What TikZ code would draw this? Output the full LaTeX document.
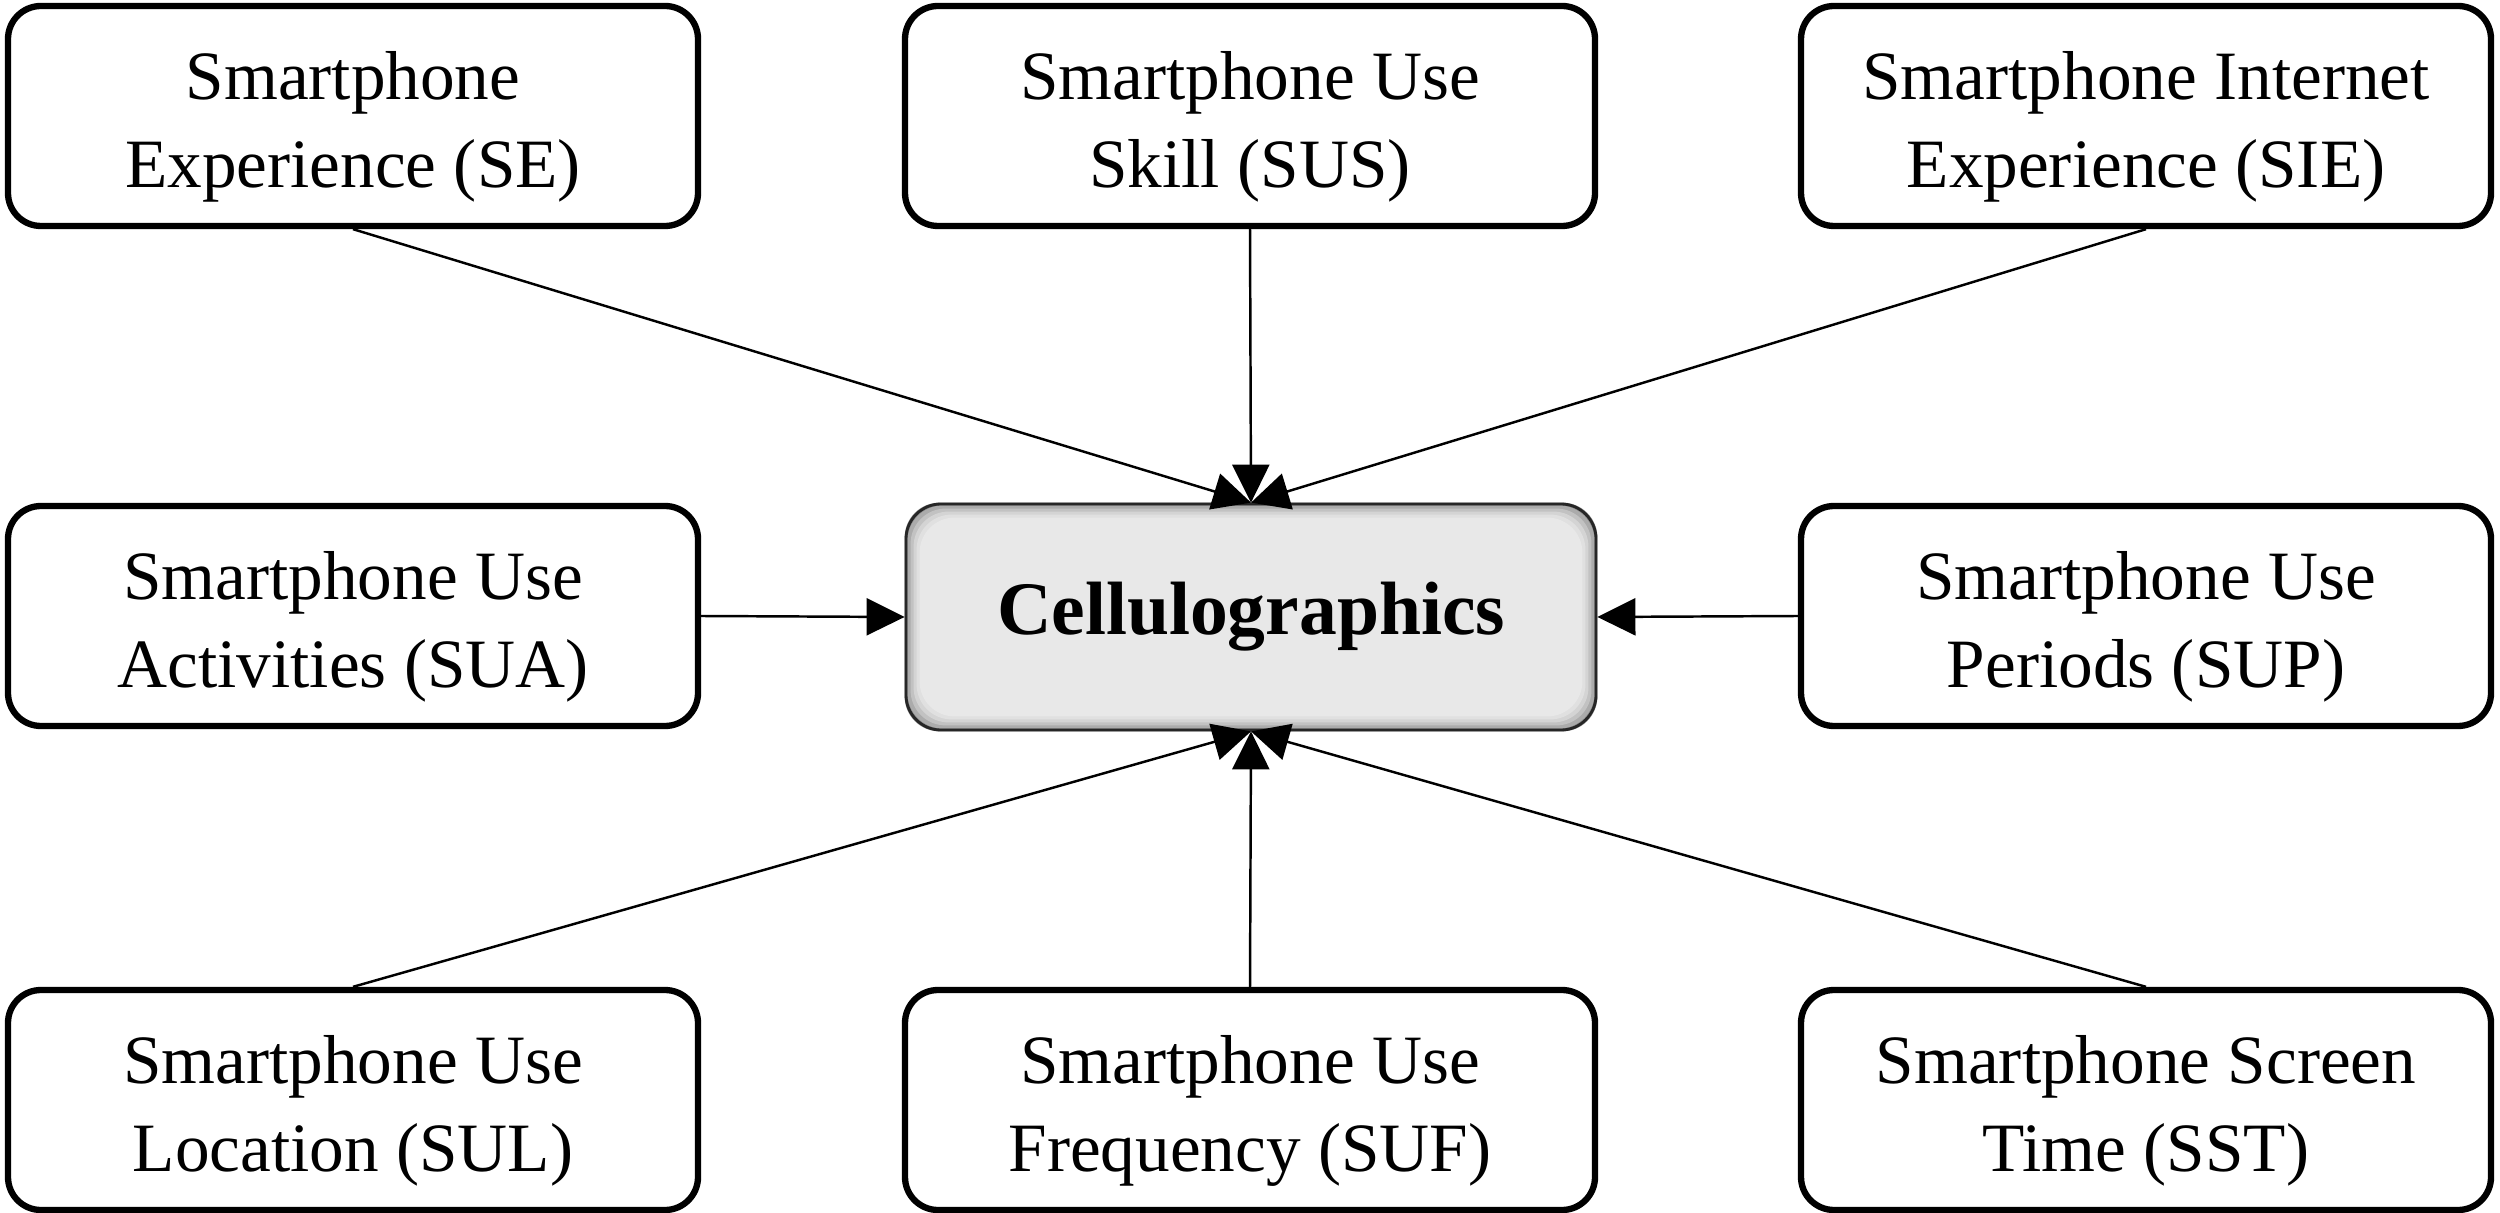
\documentclass[tikz,border=0pt]{standalone}
\usepackage{fontspec}
\setmainfont{Liberation Serif}
\usepackage{tikz}
\usetikzlibrary{shapes,arrows.meta,positioning,calc,backgrounds}

\begin{document}
\begin{tikzpicture}[auto,
    factor/.style={rectangle, draw, line width=1.8pt, rounded corners=3.3mm,
        minimum width=6.9cm, minimum height=2.2cm, inner sep=0pt,
        align=center, font=\fontsize{19.7}{25}\selectfont,
        execute at begin node={\rule{0pt}{45pt}}},
    core/.style={rectangle, draw=black!85, line width=0.8pt, rounded corners=3.5mm,
        minimum width=6.9cm, minimum height=2.26cm, inner sep=0pt,
        font=\fontsize{21.5}{26}\selectfont\bfseries},
    line/.style={draw, -{Triangle[length=3.8mm,width=3.7mm]}, line width=0.7pt}]

    \useasboundingbox (0,0) rectangle (25,-12.13);

    % ====== Centre ======
    \node [core] (cell) at (12.51,-6.17) {Cellulographics};
    \begin{scope}[on background layer]
        \foreach \d/\g in {0/45,0.03/33,0.06/24,0.09/17,0.12/12,0.15/9}
            \fill [black!\g, rounded corners=3.5mm]
                ($(cell.north west)+(\d,-\d)$) rectangle ($(cell.south east)+(-\d,\d)$);
    \end{scope}

    % ====== Top row ======
    \node [factor] (se)  at (3.53,-1.16)  {Smartphone\\Experience (SE)};
    \node [factor] (sus) at (12.50,-1.16) {Smartphone Use\\Skill (SUS)};
    \node [factor] (sie) at (21.46,-1.16) {Smartphone Internet\\Experience (SIE)};

    % ====== Middle row ======
    \node [factor] (sua) at (3.53,-6.16)  {Smartphone Use\\Activities (SUA)};
    \node [factor] (sup) at (21.46,-6.16) {Smartphone Use\\Periods (SUP)};

    % ====== Bottom row ======
    \node [factor] (sul) at (3.53,-11.0)  {Smartphone Use\\Location (SUL)};
    \node [factor] (suf) at (12.50,-11.0) {Smartphone Use\\Frequency (SUF)};
    \node [factor] (sst) at (21.46,-11.0) {Smartphone Screen\\Time (SST)};

    % ====== Lines ======
    \path [line] (se.south)  -- (cell.north);
    \path [line] (sus.south) -- (cell.north);
    \path [line] (sie.south) -- (cell.north);
    \path [line] (sua.east)  -- (cell.west);
    \path [line] (sup.west)  -- (cell.east);
    \path [line] (sul.north) -- (cell.south);
    \path [line] (suf.north) -- (cell.south);
    \path [line] (sst.north) -- (cell.south);
\end{tikzpicture}
\end{document}
